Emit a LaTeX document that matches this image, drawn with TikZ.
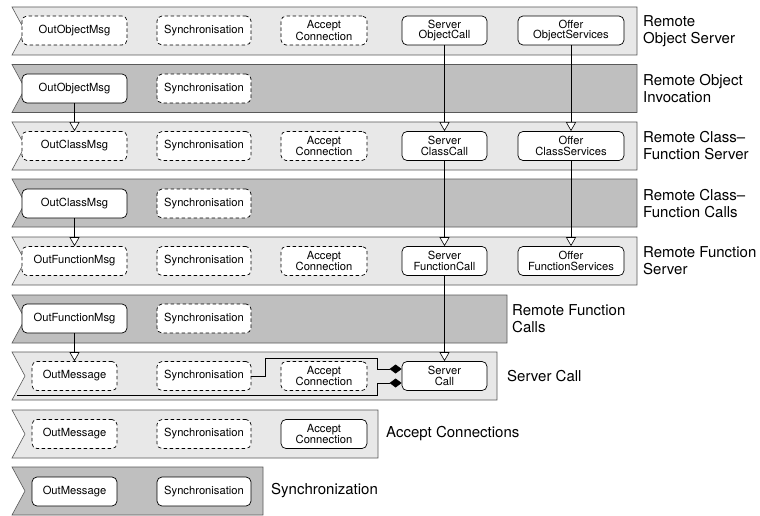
\documentclass[tikz,border=0pt]{standalone}
\usepackage{fontspec}
\setmainfont{TeX Gyre Heros}
\usetikzlibrary{arrows.meta}
\tikzstyle{band}=[draw=black!65, line width=.6pt]
\tikzstyle{sbox}=[rectangle, rounded corners=5pt, draw=black, fill=white,
                  line width=.7pt, minimum height=29pt, inner sep=1pt,
                  align=center, font=\fontsize{11.2}{10.5}\selectfont]
\tikzstyle{dbox}=[sbox, dash pattern=on 3.5pt off 2.5pt]
\tikzstyle{lbl}=[anchor=west, align=left, inner sep=0pt,
                 font=\fontsize{15}{17}\selectfont]
\tikzstyle{flow}=[line width=.6pt, -{Triangle[length=9pt, width=10pt, fill=white]}]
\tikzstyle{link}=[line width=.6pt, -{Diamond[length=12pt, width=9pt]}]

\begin{document}
\begin{tikzpicture}[x=1pt, y=-1pt]
    \useasboundingbox (0,0) rectangle (760,516);
    % layers
    \foreach \by/\bx/\bc in {7/637/black!9, 64.5/637/black!25, 122/637/black!9,
          179/637/black!25, 237/637/black!9, 295/507/black!25, 352/497/black!9,
          410/378/black!9, 467/263/black!25}
      \draw[band, fill=\bc] (12,\by) -- (\bx,\by) -- (\bx,\by+48) -- (12,\by+48)
        -- (25,\by+24) -- cycle;
    \node[lbl] (l1) at (643,31) {Remote\\Object Server};
    \node[lbl] (l2) at (643,88.5) {Remote Object\\Invocation};
    \node[lbl] (l3) at (643,146) {Remote Class--\\Function Server};
    \node[lbl] (l4) at (643,203.5) {Remote Class--\\Function Calls};
    \node[lbl] (l5) at (643,261) {Remote Function\\Server};
    \node[lbl] (l6) at (512,319) {Remote Function\\Calls};
    \node[lbl] (l7) at (507,376) {Server Call};
    \node[lbl] (l8) at (386,434) {Accept Connections};
    \node[lbl] (l9) at (271,491) {Synchronization};
    % row 1
    \node[dbox, minimum width=105pt] (o1) at (74.5,30.5) {OutObjectMsg};
    \node[dbox, minimum width=94pt] (s1) at (204,30.5) {Synchronisation};
    \node[dbox, minimum width=86pt] (a1) at (324,30.5) {Accept\\Connection};
    \node[sbox, minimum width=85pt] (v1) at (444.5,30.5) {Server\\ObjectCall};
    \node[sbox, minimum width=106pt] (f1) at (571,30.5) {Offer\\ObjectServices};
    % row 2
    \node[sbox, minimum width=105pt] (o2) at (74.5,88.5) {OutObjectMsg};
    \node[dbox, minimum width=94pt] (s2) at (204,88.5) {Synchronisation};
    % row 3
    \node[dbox, minimum width=105pt] (o3) at (74.5,146) {OutClassMsg};
    \node[dbox, minimum width=94pt] (s3) at (204,146) {Synchronisation};
    \node[dbox, minimum width=86pt] (a3) at (324,146) {Accept\\Connection};
    \node[sbox, minimum width=85pt] (v3) at (444.5,146) {Server\\ClassCall};
    \node[sbox, minimum width=106pt] (f3) at (571,146) {Offer\\ClassServices};
    % row 4
    \node[sbox, minimum width=105pt] (o4) at (74.5,203.5) {OutClassMsg};
    \node[dbox, minimum width=94pt] (s4) at (204,203.5) {Synchronisation};
    % row 5
    \node[dbox, minimum width=105pt] (o5) at (74.5,261) {OutFunctionMsg};
    \node[dbox, minimum width=94pt] (s5) at (204,261) {Synchronisation};
    \node[dbox, minimum width=86pt] (a5) at (324,261) {Accept\\Connection};
    \node[sbox, minimum width=85pt] (v5) at (444.5,261) {Server\\FunctionCall};
    \node[sbox, minimum width=106pt] (f5) at (571,261) {Offer\\FunctionServices};
    % row 6
    \node[sbox, minimum width=105pt] (o6) at (74.5,318.5) {OutFunctionMsg};
    \node[dbox, minimum width=94pt] (s6) at (204,318.5) {Synchronisation};
    % row 7
    \node[dbox, minimum width=85pt] (o7) at (74.5,376) {OutMessage};
    \node[dbox, minimum width=94pt] (s7) at (204,376) {Synchronisation};
    \node[dbox, minimum width=86pt] (a7) at (324,376) {Accept\\Connection};
    \node[sbox, minimum width=85pt] (v7) at (444.5,376) {Server\\Call};
    % row 8
    \node[dbox, minimum width=85pt] (o8) at (74.5,434) {OutMessage};
    \node[dbox, minimum width=94pt] (s8) at (204,434) {Synchronisation};
    \node[sbox, minimum width=86pt] (a8) at (324,434) {Accept\\Connection};
    % row 9
    \node[sbox, minimum width=85pt] (o9) at (74.5,491.5) {OutMessage};
    \node[sbox, minimum width=94pt] (s9) at (204,491.5) {Synchronisation};
    % uses
    \foreach \from/\to in {o2/o3, v1/v3, f1/f3, o4/o5, v3/v5, f3/f5, o6/o7, v5/v7}
      \draw[flow] (\from.south) -- (\to.north);
    \coordinate (in7) at (17,395);
    \draw[link] (s7.east) -| (265,358) -| (377,369) -- ([yshift=7pt]v7.west);
    \draw[link] (in7) -| (377,383) -- ([yshift=-7pt]v7.west);
\end{tikzpicture}
\end{document}
